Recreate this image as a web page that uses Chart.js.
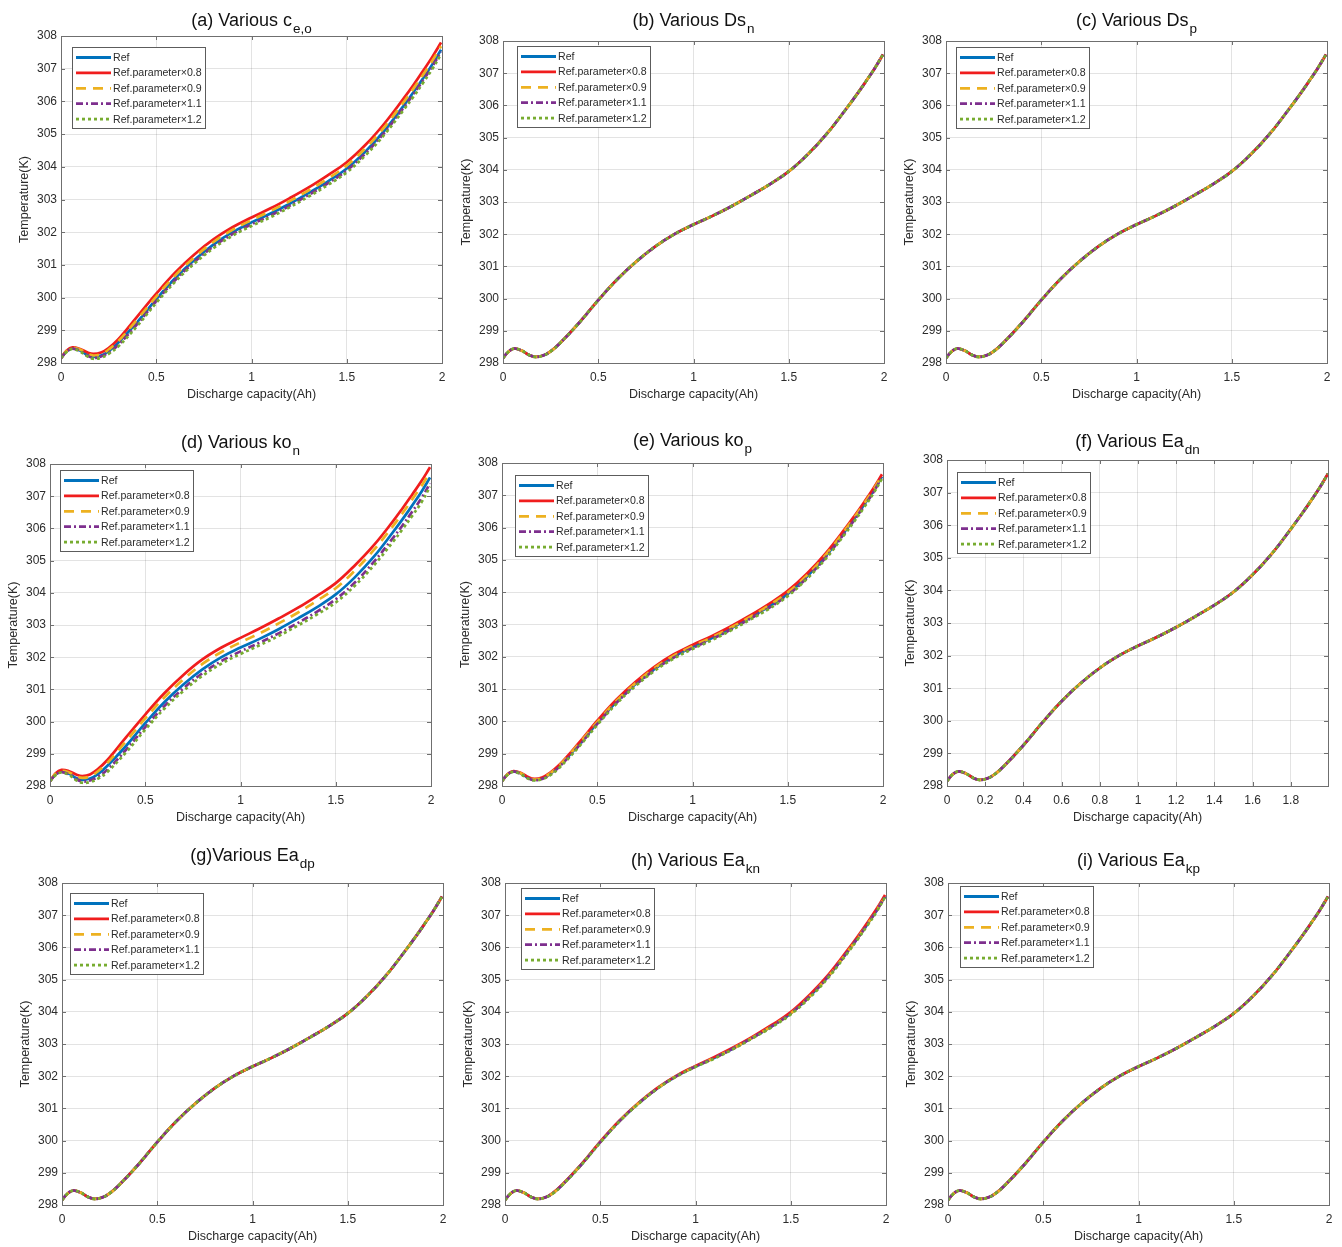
<!DOCTYPE html>
<html>
<head>
<meta charset="utf-8">
<script src="https://cdn.jsdelivr.net/npm/chart.js@4.4.1/dist/chart.umd.min.js"></script>
<style>
  html, body { margin: 0; padding: 0; background: #fff; }
  #page { position: relative; width: 1342px; height: 1247px; overflow: hidden; background: #fff; }
  #page canvas { position: absolute; }
</style>
</head>
<body>
<div id="page"></div>
<script>
// Discharge capacity (Ah) sample points shared by every curve
const capacity = [0, 0.03, 0.06, 0.1, 0.14, 0.17, 0.21, 0.25, 0.3, 0.4, 0.5, 0.6, 0.7, 0.8, 0.9, 1.0,
                  1.1, 1.2, 1.3, 1.4, 1.5, 1.6, 1.7, 1.8, 1.85, 1.9, 1.95, 1.995];

// Reference temperature curve (K)
const tempRef = [298.15, 298.36, 298.45, 298.38, 298.24, 298.19, 298.23, 298.36, 298.62, 299.25, 299.95, 300.60, 301.15, 301.62, 302.00, 302.30,
                 302.57, 302.87, 303.20, 303.55, 303.95, 304.48, 305.12, 305.88, 306.28, 306.70, 307.14, 307.58];

// (a) electrolyte concentration c_e,o
const ceo08 = [298.15, 298.38, 298.48, 298.43, 298.32, 298.28, 298.32, 298.46, 298.72, 299.42, 300.12, 300.77, 301.32, 301.78, 302.15, 302.45,
               302.73, 303.04, 303.37, 303.74, 304.14, 304.68, 305.34, 306.10, 306.50, 306.93, 307.37, 307.80];
const ceo09 = [298.15, 298.37, 298.46, 298.41, 298.28, 298.23, 298.27, 298.41, 298.66, 299.33, 300.03, 300.68, 301.23, 301.70, 302.07, 302.37,
               302.65, 302.95, 303.28, 303.64, 304.04, 304.58, 305.23, 305.99, 306.39, 306.81, 307.25, 307.69];
const ceo11 = [298.15, 298.35, 298.44, 298.37, 298.22, 298.16, 298.20, 298.32, 298.55, 299.19, 299.89, 300.54, 301.09, 301.56, 301.94, 302.24,
               302.51, 302.81, 303.14, 303.49, 303.89, 304.42, 305.06, 305.82, 306.22, 306.64, 307.08, 307.52];
const ceo12 = [298.15, 298.34, 298.43, 298.35, 298.20, 298.13, 298.16, 298.28, 298.50, 299.13, 299.84, 300.49, 301.04, 301.51, 301.89, 302.19,
               302.46, 302.76, 303.09, 303.44, 303.83, 304.36, 305.00, 305.75, 306.14, 306.56, 307.00, 307.44];

// (d) negative electrode reaction rate ko_n
const kon08 = [298.15, 298.40, 298.50, 298.46, 298.35, 298.31, 298.36, 298.52, 298.80, 299.52, 300.22, 300.88, 301.45, 301.93, 302.30, 302.60,
               302.89, 303.20, 303.53, 303.90, 304.30, 304.85, 305.48, 306.22, 306.62, 307.04, 307.47, 307.90];
const kon09 = [298.15, 298.38, 298.47, 298.42, 298.30, 298.25, 298.30, 298.45, 298.71, 299.40, 300.10, 300.75, 301.31, 301.79, 302.16, 302.46,
               302.74, 303.05, 303.38, 303.75, 304.14, 304.69, 305.33, 306.07, 306.47, 306.89, 307.32, 307.74];
const kon11 = [298.15, 298.35, 298.43, 298.36, 298.20, 298.14, 298.17, 298.28, 298.50, 299.13, 299.83, 300.48, 301.03, 301.50, 301.88, 302.18,
               302.45, 302.74, 303.06, 303.41, 303.80, 304.32, 304.96, 305.70, 306.09, 306.51, 306.94, 307.40];
const kon12 = [298.15, 298.34, 298.42, 298.34, 298.17, 298.10, 298.12, 298.22, 298.43, 299.05, 299.75, 300.40, 300.95, 301.42, 301.80, 302.10,
               302.37, 302.66, 302.98, 303.32, 303.70, 304.22, 304.85, 305.58, 305.97, 306.38, 306.81, 307.30];

// (e) positive electrode reaction rate ko_p
const kop08 = [298.15, 298.37, 298.46, 298.40, 298.27, 298.22, 298.26, 298.40, 298.65, 299.31, 300.02, 300.67, 301.22, 301.69, 302.07, 302.37,
               302.64, 302.94, 303.27, 303.63, 304.04, 304.57, 305.21, 305.96, 306.36, 306.78, 307.22, 307.65];
const kop09 = [298.15, 298.36, 298.45, 298.39, 298.25, 298.20, 298.24, 298.38, 298.63, 299.28, 299.98, 300.63, 301.18, 301.65, 302.03, 302.33,
               302.60, 302.90, 303.23, 303.59, 303.99, 304.52, 305.16, 305.92, 306.32, 306.74, 307.18, 307.62];
const kop11 = [298.15, 298.36, 298.45, 298.37, 298.23, 298.18, 298.22, 298.34, 298.59, 299.22, 299.92, 300.57, 301.12, 301.59, 301.97, 302.27,
               302.54, 302.84, 303.17, 303.51, 303.91, 304.44, 305.08, 305.84, 306.24, 306.66, 307.10, 307.56];
const kop12 = [298.15, 298.35, 298.44, 298.36, 298.22, 298.17, 298.21, 298.32, 298.56, 299.19, 299.89, 300.54, 301.09, 301.56, 301.94, 302.24,
               302.51, 302.81, 303.14, 303.48, 303.88, 304.41, 305.04, 305.80, 306.20, 306.62, 307.06, 307.52];

// (h) activation energy Ea_kn
const eakn08 = [298.15, 298.36, 298.45, 298.38, 298.24, 298.19, 298.23, 298.37, 298.63, 299.26, 299.97, 300.62, 301.17, 301.64, 302.02, 302.32,
                302.60, 302.90, 303.23, 303.59, 303.99, 304.53, 305.17, 305.93, 306.33, 306.75, 307.19, 307.63];
const eakn12 = [298.15, 298.36, 298.45, 298.38, 298.24, 298.19, 298.23, 298.35, 298.61, 299.24, 299.94, 300.59, 301.14, 301.61, 301.99, 302.29,
                302.55, 302.85, 303.18, 303.52, 303.92, 304.44, 305.08, 305.84, 306.24, 306.66, 307.10, 307.56];

// Axis tick values
const tempTicks = [298, 299, 300, 301, 302, 303, 304, 305, 306, 307, 308];
const capTicks = [0, 0.5, 1, 1.5, 2];
const capTicksFine = [0, 0.2, 0.4, 0.6, 0.8, 1, 1.2, 1.4, 1.6, 1.8];

const seriesNames = ['Ref', 'Ref.parameter\u00d70.8', 'Ref.parameter\u00d70.9', 'Ref.parameter\u00d71.1', 'Ref.parameter\u00d71.2'];

// Line appearance for the five cases
const lineStyles = [
  { color: '#0072BD', dash: [] },
  { color: '#F01D1D', dash: [] },
  { color: '#EDB120', dash: [10, 7] },
  { color: '#7E2F8E', dash: [7, 3, 2, 3] },
  { color: '#77AC30', dash: [3, 3] }
];

const FONT = '"Liberation Sans", Arial, Helvetica, sans-serif';
const INK = '#2b2b2b';
const BOX = '#6f6f6f';

const panels = [
  { title: '(a) Various c',  sub: 'e,o', plot: [61, 36, 442, 363],    titleY: 26,  legend: [11, 11], ticks: capTicks, xMax: 2,
    series: [tempRef, ceo08, ceo09, ceo11, ceo12] },
  { title: '(b) Various Ds', sub: 'n',   plot: [503, 41, 884, 363],   titleY: 26,  legend: [14, 5],  ticks: capTicks, xMax: 2,
    series: [tempRef, tempRef, tempRef, tempRef, tempRef] },
  { title: '(c) Various Ds', sub: 'p',   plot: [946, 41, 1327, 363],  titleY: 26,  legend: [10, 6],  ticks: capTicks, xMax: 2,
    series: [tempRef, tempRef, tempRef, tempRef, tempRef] },
  { title: '(d) Various ko', sub: 'n',   plot: [50, 464, 431, 786],   titleY: 448, legend: [10, 6],  ticks: capTicks, xMax: 2,
    series: [tempRef, kon08, kon09, kon11, kon12] },
  { title: '(e) Various ko', sub: 'p',   plot: [502, 463, 883, 786],  titleY: 446, legend: [13, 12], ticks: capTicks, xMax: 2,
    series: [tempRef, kop08, kop09, kop11, kop12] },
  { title: '(f) Various Ea', sub: 'dn',  plot: [947, 460, 1328, 786], titleY: 447, legend: [10, 12], ticks: capTicksFine, xMax: 1.995,
    series: [tempRef, tempRef, tempRef, tempRef, tempRef] },
  { title: '(g)Various Ea',  sub: 'dp',  plot: [62, 883, 443, 1205],  titleY: 861, legend: [8, 10],  ticks: capTicks, xMax: 2,
    series: [tempRef, tempRef, tempRef, tempRef, tempRef] },
  { title: '(h) Various Ea', sub: 'kn',  plot: [505, 883, 886, 1205], titleY: 866, legend: [16, 5],  ticks: capTicks, xMax: 2,
    series: [tempRef, eakn08, tempRef, tempRef, eakn12] },
  { title: '(i) Various Ea', sub: 'kp',  plot: [948, 883, 1329, 1205], titleY: 866, legend: [12, 3], ticks: capTicks, xMax: 2,
    series: [tempRef, tempRef, tempRef, tempRef, tempRef] }
];

// Space around the plotting area inside each canvas
const M = { left: 62, top: 48, right: 14, bottom: 46 };

const fmt = v => String(Math.round(v * 100) / 100);

function line(ctx, x1, y1, x2, y2) {
  ctx.beginPath(); ctx.moveTo(x1, y1); ctx.lineTo(x2, y2); ctx.stroke();
}

// Frame, inward ticks, titles and a boxed legend drawn in the MATLAB figure style
const figureStyle = {
  id: 'figureStyle',
  afterDraw(chart) {
    const p = chart.options.plugins.figureStyle.panel;
    const ctx = chart.ctx, ca = chart.chartArea;
    const xs = chart.scales.x, ys = chart.scales.y;
    ctx.save();

    // axes box and inward tick marks on all four sides
    ctx.strokeStyle = BOX; ctx.lineWidth = 1; ctx.setLineDash([]);
    ctx.strokeRect(Math.round(ca.left) + 0.5, Math.round(ca.top) + 0.5,
                   Math.round(ca.right - ca.left), Math.round(ca.bottom - ca.top));
    xs.ticks.forEach(t => {
      const px = Math.round(xs.getPixelForValue(t.value)) + 0.5;
      line(ctx, px, ca.bottom, px, ca.bottom - 4);
      line(ctx, px, ca.top, px, ca.top + 4);
    });
    ys.ticks.forEach(t => {
      const py = Math.round(ys.getPixelForValue(t.value)) + 0.5;
      line(ctx, ca.left, py, ca.left + 4, py);
      line(ctx, ca.right, py, ca.right - 4, py);
    });

    // panel title with subscript
    const cx = (ca.left + ca.right) / 2;
    const ty = p.titleY - (p.plot[1] - M.top);
    ctx.fillStyle = '#111';
    ctx.textBaseline = 'alphabetic';
    ctx.font = '18px ' + FONT;
    const wMain = ctx.measureText(p.title).width;
    ctx.font = '13.5px ' + FONT;
    const wSub = ctx.measureText(p.sub).width;
    const x0 = cx - (wMain + 1 + wSub) / 2;
    ctx.textAlign = 'left';
    ctx.font = '18px ' + FONT;
    ctx.fillText(p.title, x0, ty);
    ctx.font = '13.5px ' + FONT;
    ctx.fillText(p.sub, x0 + wMain + 1, ty + 7);

    // axis titles
    ctx.fillStyle = INK;
    ctx.font = '12.5px ' + FONT;
    ctx.textAlign = 'center';
    ctx.textBaseline = 'middle';
    ctx.fillText('Discharge capacity(Ah)', cx, ca.bottom + 32);
    ctx.save();
    ctx.translate(ca.left - 36, (ca.top + ca.bottom) / 2);
    ctx.rotate(-Math.PI / 2);
    ctx.fillText('Temperature(K)', 0, 0);
    ctx.restore();

    // legend
    const lx = Math.round(ca.left + p.legend[0]), ly = Math.round(ca.top + p.legend[1]);
    const lw = 133, lh = 81;
    ctx.fillStyle = '#fff';
    ctx.fillRect(lx, ly, lw, lh);
    ctx.strokeStyle = '#5c5c5c'; ctx.lineWidth = 1;
    ctx.strokeRect(lx + 0.5, ly + 0.5, lw, lh);
    ctx.font = '10.6px ' + FONT;
    ctx.textAlign = 'left';
    ctx.textBaseline = 'middle';
    chart.data.datasets.forEach((ds, i) => {
      const ry = ly + 10.5 + i * 15.4;
      ctx.strokeStyle = ds.borderColor;
      ctx.lineWidth = 2.8;
      ctx.lineCap = 'butt';
      ctx.setLineDash(ds.borderDash || []);
      line(ctx, lx + 4, ry, lx + 39, ry);
      ctx.setLineDash([]);
      ctx.fillStyle = INK;
      ctx.fillText(ds.label, lx + 41, ry + 0.5);
    });
    ctx.restore();
  }
};

const page = document.getElementById('page');

panels.forEach(p => {
  const [l, t, r, b] = p.plot;
  const canvas = document.createElement('canvas');
  const w = (r - l) + M.left + M.right, h = (b - t) + M.top + M.bottom;
  canvas.width = w; canvas.height = h;
  canvas.style.left = (l - M.left) + 'px';
  canvas.style.top = (t - M.top) + 'px';
  canvas.style.width = w + 'px'; canvas.style.height = h + 'px';
  page.appendChild(canvas);

  const datasets = seriesNames.map((name, i) => ({
    label: name,
    data: capacity.map((x, k) => ({ x: x, y: p.series[i][k] })),
    borderColor: lineStyles[i].color,
    backgroundColor: lineStyles[i].color,
    borderDash: lineStyles[i].dash,
    borderWidth: 2.7,
    borderCapStyle: 'butt',
    borderJoinStyle: 'round',
    pointRadius: 0,
    fill: false,
    tension: 0.4,
    order: seriesNames.length - i
  }));

  new Chart(canvas, {
    type: 'line',
    data: { datasets },
    plugins: [figureStyle],
    options: {
      responsive: false,
      animation: false,
      devicePixelRatio: 1,
      events: [],
      layout: { padding: { left: 0, top: M.top, right: M.right, bottom: 0 } },
      plugins: {
        legend: { display: false },
        tooltip: { enabled: false },
        title: { display: false },
        figureStyle: { panel: p }
      },
      scales: {
        x: {
          type: 'linear',
          min: 0,
          max: p.xMax,
          afterBuildTicks: axis => { axis.ticks = p.ticks.map(v => ({ value: v })); },
          afterFit: s => { s.height = M.bottom; },
          ticks: { callback: v => fmt(v), font: { family: FONT, size: 12 }, color: INK, padding: 7, maxRotation: 0, autoSkip: false },
          grid: { color: 'rgba(0,0,0,0.11)', drawTicks: false, lineWidth: 1 },
          border: { display: false }
        },
        y: {
          type: 'linear',
          min: 298,
          max: 308,
          afterBuildTicks: axis => { axis.ticks = tempTicks.map(v => ({ value: v })); },
          afterFit: s => { s.width = M.left; },
          ticks: { callback: v => fmt(v), font: { family: FONT, size: 12 }, color: INK, padding: 4, autoSkip: false },
          grid: { color: 'rgba(0,0,0,0.11)', drawTicks: false, lineWidth: 1 },
          border: { display: false }
        }
      }
    }
  });
});
</script>
</body>
</html>
